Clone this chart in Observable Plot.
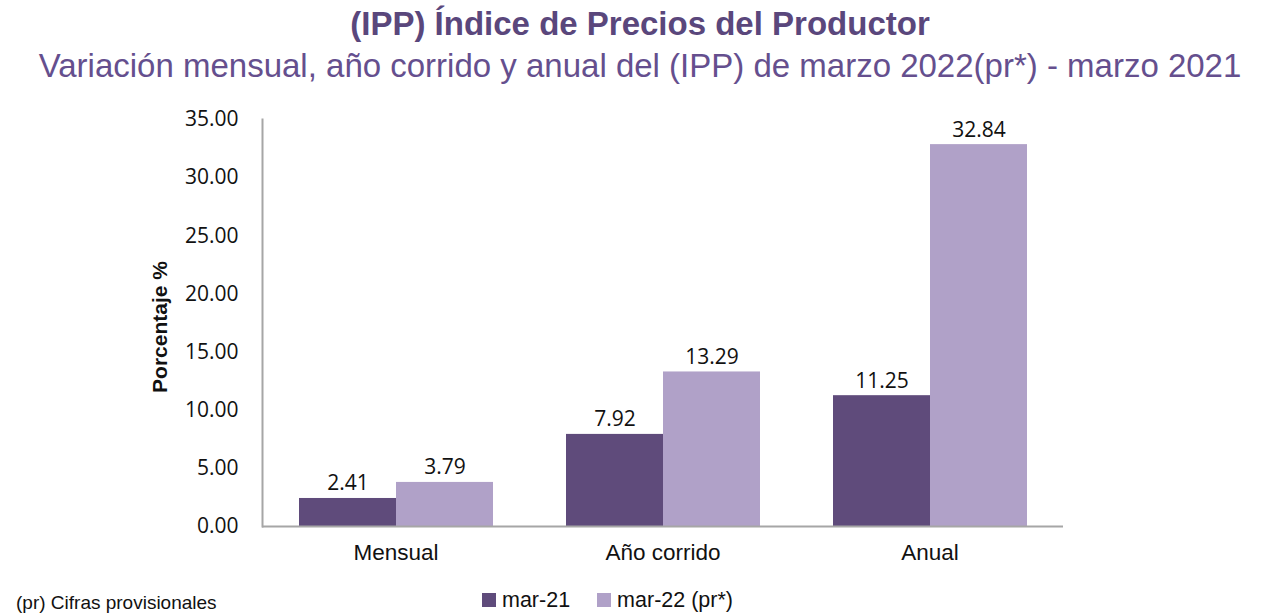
<!DOCTYPE html>
<html>
<head>
<meta charset="utf-8">
<script src="https://cdn.jsdelivr.net/npm/d3@7"></script>
<script src="https://cdn.jsdelivr.net/npm/@observablehq/plot@0.6"></script>
<style>
  html, body { margin: 0; padding: 0; background: #fff; width: 1280px; height: 615px; overflow: hidden; position: relative; }
  #title { position: absolute; top: 5px; left: 0; width: 1280px; text-align: center; font-family: "Liberation Sans", Arial, sans-serif; font-weight: bold; font-size: 33px; line-height: 38px; color: #5a477c; }
  #subtitle { position: absolute; top: 47px; left: 0; width: 1280px; text-align: center; font-family: "Liberation Sans", Arial, sans-serif; font-size: 33px; line-height: 38px; color: #654f8e; }
  #chart { position: absolute; top: 90px; left: 0; }
  #ylabel { position: absolute; left: 160px; top: 327px; transform: translate(-50%, -50%) rotate(-90deg); white-space: nowrap; font-family: "Liberation Sans", Arial, sans-serif; font-weight: bold; font-size: 21px; color: #111; }
  #legend { position: absolute; top: 587px; left: 482px; font-family: "Liberation Sans", Arial, sans-serif; font-size: 21.5px; line-height: 26px; color: #111; display: flex; align-items: center; }
  #legend .sw { width: 14px; height: 14px; display: inline-block; margin-right: 6px; }
  #legend .item { display: flex; align-items: center; margin-right: 27px; }
  #foot { position: absolute; top: 592px; left: 16px; font-family: "Liberation Sans", Arial, sans-serif; font-size: 19px; line-height: 21px; color: #111; white-space: nowrap; }
</style>
</head>
<body>
<div id="title">(IPP) Índice de Precios del Productor</div>
<div id="subtitle">Variación mensual, año corrido y anual del (IPP) de marzo 2022(pr*) - marzo 2021</div>
<div id="chart"></div>
<div id="ylabel">Porcentaje %</div>
<div id="legend"></div>
<div id="foot">(pr) Cifras provisionales</div>
<script>
const categories = ["Mensual", "Año corrido", "Anual"];
const seriesNames = ["mar-21", "mar-22 (pr*)"];
const valuesMar21 = [2.41, 7.92, 11.25];
const valuesMar22 = [3.79, 13.29, 32.84];
const yTicks = [0, 5, 10, 15, 20, 25, 30, 35];
const colors = ["#5f4b7b", "#b0a1c8"];

const data = [];
categories.forEach((c, i) => {
  data.push({cat: c, series: seriesNames[0], value: valuesMar21[i]});
  data.push({cat: c, series: seriesNames[1], value: valuesMar22[i]});
});

const marks = [
  Plot.barY(data, {fx: "cat", x: "series", y: "value", fill: "series"}),
  Plot.text(data, {fx: "cat", x: "series", y: "value", text: d => d.value.toFixed(2), lineAnchor: "bottom", dy: -8, fontSize: 21, fontFamily: "Open Sans", fill: "#111"}),
  Plot.ruleY([0], {stroke: "#a6a6a6", strokeWidth: 2})
];
if (Plot.frame) {
  try { marks.push(Plot.frame({anchor: "left", facetAnchor: "left", stroke: "#a6a6a6", strokeWidth: 2})); } catch (e) {}
}

const chart = Plot.plot({
  width: 1280,
  height: 490,
  marginTop: 29,
  marginBottom: 54,
  marginLeft: 262,
  marginRight: 217,
  style: {fontFamily: "Open Sans", fontSize: "21px", color: "#111", background: "transparent"},
  fx: {domain: categories, padding: 0, axis: "bottom", label: null, tickSize: 0, tickPadding: 18},
  x: {domain: seriesNames, axis: null, paddingInner: 0, paddingOuter: 0.376},
  y: {domain: [0, 35], ticks: yTicks, tickFormat: d => d.toFixed(2), tickSize: 0, tickPadding: 24, label: null},
  color: {domain: seriesNames, range: colors},
  marks
});
document.getElementById("chart").appendChild(chart);

// category labels in Arial-like face
chart.querySelectorAll('g[aria-label="fx-axis tick label"] text, g[aria-label="fx-axis"] text').forEach(t => {
  t.setAttribute("font-family", "Liberation Sans, Arial, sans-serif");
  t.setAttribute("font-size", "22.5px");
});

const leg = document.getElementById("legend");
seriesNames.forEach((s, i) => {
  const item = document.createElement("span");
  item.className = "item";
  const sw = document.createElement("span");
  sw.className = "sw";
  sw.style.background = colors[i];
  item.appendChild(sw);
  item.appendChild(document.createTextNode(s));
  leg.appendChild(item);
});
</script>
</body>
</html>
